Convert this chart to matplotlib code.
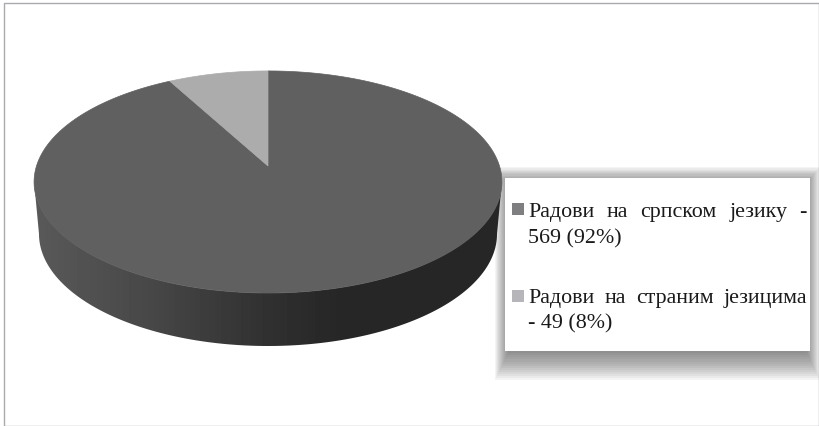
import numpy as np
import matplotlib
matplotlib.use('Agg')
import matplotlib.pyplot as plt
from matplotlib.patches import Rectangle, Polygon
from matplotlib.transforms import Affine2D

plt.rcParams['font.family'] = ['Liberation Serif', 'DejaVu Serif']

W, H = 820, 426
values = [569, 49]
slice_colors = ['#606060', '#acacac']
legend_colors = ['#7f7f82', '#b6b6ba']
# legend text, one list of words per line, each entry is one series
line1_words = ['Радови', 'на', 'српском', 'језику', '-']
line1_tail = '569 (92%)'
line2_words = ['Радови', 'на', 'страним', 'језицима']
line2_tail = '- 49 (8%)'
# grey levels along the side of the pie, pixel x to grey
side_stops_x = [34, 150, 268, 340, 502]
side_stops_grey = [0.35, 0.28, 0.19, 0.15, 0.15]

fig = plt.figure(figsize=(W / 100, H / 100), dpi=100)

# everything is placed in pixel coordinates of the page
ax = fig.add_axes([0, 0, 1, 1])
wedges, _ = ax.pie(values, colors=slice_colors, startangle=90, counterclock=False, radius=1)

ax.set_aspect('auto')
ax.set_xlim(0, W)
ax.set_ylim(H, 0)
ax.axis('off')
ax.add_patch(Rectangle((4.5, 2.5), 815, 423, fc='white', ec='#a9a9ae', lw=1, zorder=0))

# the pie is tilted in perspective, so its centre sits above the middle of the ellipse
cx, cy = 268, 181
k, A, B, C = 0.144, 231.5, 110.9, 15.0

def tilt(xy):
    w = 1 + k * xy[:, 1]
    return np.column_stack([cx + A * xy[:, 0] / w, cy - (B * xy[:, 1] + C) / w])

for wedge, col in zip(wedges, slice_colors):
    wedge.set_visible(False)
    flat = wedge.get_path().to_polygons(transform=Affine2D().scale(1000))[0] / 1000
    ax.add_patch(Polygon(tilt(flat), fc=col, ec=col, lw=0.5, zorder=2))

# side wall, gradient clipped to the band under the front edge
t = np.linspace(np.pi, 0, 200)
top_edge = np.column_stack([cx + 234 * np.cos(t), 181 + 112 * np.sin(t)])
low_edge = np.column_stack([cx + 229 * np.cos(t), 234 + 112 * np.sin(t)])
wall = Polygon(np.vstack([top_edge, low_edge[::-1]]), fc='none', ec='none', zorder=1)
ax.add_patch(wall)
grad_x = np.arange(30, 506)
grad = np.interp(grad_x, side_stops_x, side_stops_grey)[None, :]
im = ax.imshow(grad, extent=(30, 506, 350, 180), cmap='gray', vmin=0, vmax=1,
               aspect='auto', zorder=1)
im.set_clip_path(wall)
ax.set_xlim(0, W)
ax.set_ylim(H, 0)

# legend box with soft shadow, heavier below the box and behind the pie
bx, by, bw, bh = 505, 178, 305, 173
for g in range(1, 15):
    x0 = bx + 4 - g
    x1 = bx + bw - 4 + g
    y0 = by + 6 - g * 1.2
    y1 = by + bh + g * 2.1
    ax.add_patch(Rectangle((x0, y0), x1 - x0, y1 - y0, fc='#333333', ec='none',
                           alpha=0.05, zorder=0.5))
ax.add_patch(Rectangle((bx, by), bw, bh, fc='white', ec='none', zorder=4))

def justified(words, y, x0, x1):
    # spread the words over the box width like the original justified text
    r = fig.canvas.get_renderer()
    items = [ax.text(x0, y, w, fontsize=15.8, color='#1a1a1a', va='baseline', ha='left', zorder=5)
             for w in words]
    widths = [i.get_window_extent(r).width for i in items]
    gap = (x1 - x0 - sum(widths)) / max(len(words) - 1, 1)
    x = x0
    for item, w in zip(items, widths):
        item.set_x(x)
        x += w + gap

ax.add_patch(Rectangle((512, 203), 12, 12, fc=legend_colors[0], ec='none', zorder=5))
justified(line1_words, 217, 528, 807)
ax.text(528, 243, line1_tail, fontsize=15.8, color='#1a1a1a', va='baseline', zorder=5)
ax.add_patch(Rectangle((512, 290), 12, 11.5, fc=legend_colors[1], ec='none', zorder=5))
justified(line2_words, 303, 528, 807)
ax.text(528, 328, line2_tail, fontsize=15.8, color='#1a1a1a', va='baseline', zorder=5)

fig.savefig('out.png', dpi=100)
